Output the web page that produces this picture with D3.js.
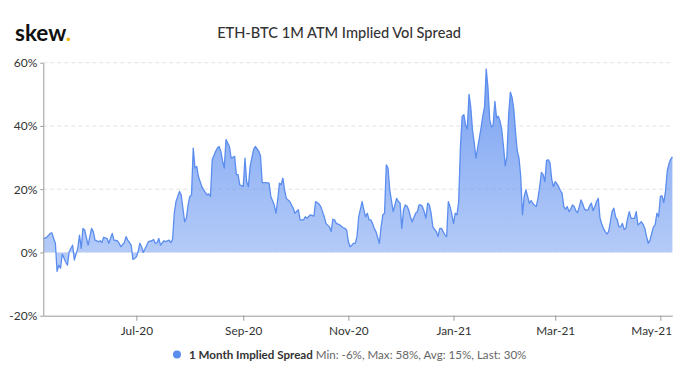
<!DOCTYPE html>
<html>
<head>
<meta charset="utf-8">
<script src="https://cdn.jsdelivr.net/npm/d3@7"></script>
<style>
  html, body { margin: 0; padding: 0; background: #fff; }
  svg { display: block; font-family: Lato, "Open Sans", sans-serif; }
</style>
</head>
<body>
<svg id="chart" width="680" height="380"></svg>
<script>
// ---- data ----
const startDate = "2020-05-08";
const dayOffsets = [0,2,4,5,6,7,8,9,10,11,13,14,15,17,18,20,21,22,23,24,26,28,29,30,32,33,34,35,37,38,40,41,43,44,45,47,48,49,51,52,53,54,55,56,57,58,60,61,63,64,65,66,67,68,70,71,73,74,75,76,77,79,80,82,83,84,85,86,87,88,89,90,92,93,95,96,97,98,100,101,102,103,104,105,106,108,109,111,112,113,114,116,117,118,119,120,122,123,125,126,127,129,131,132,134,135,136,137,138,139,140,141,143,145,146,148,149,151,152,153,155,157,158,160,161,163,164,166,167,168,169,170,172,174,175,176,177,178,179,180,181,182,183,185,186,187,188,189,190,191,192,193,195,196,197,198,199,200,201,203,204,205,206,207,208,209,210,211,212,213,214,216,217,218,219,220,221,222,223,224,225,226,228,229,230,231,232,233,234,235,236,237,238,239,240,241,242,243,244,245,246,247,248,249,250,251,252,253,254,255,256,257,258,259,260,261,262,263,264,265,266,267,268,269,270,271,272,273,274,275,276,277,278,279,280,281,282,283,284,285,286,287,288,289,290,291,292,293,294,295,296,297,298,299,300,301,302,303,304,305,306,307,308,309,310,311,312,313,314,315,316,317,318,319,320,321,322,323,324,325,326,327,328,329,330,331,332,333,334,335,336,337,338,339,340,341,342,343,344,345,346,347,348,349,350,351,352,353,354,355,356,357,358,359,360,361,362,363,364,365];
const spreadValues = [4.4,4.8,6,6.2,4.4,2.9,-6,-4,-5,-0.5,-3,-4,0.2,2.3,-2.4,1.3,5.5,1.3,7.6,7.1,2.3,7.6,6.6,3.9,3.4,3.7,3.1,4.8,4.4,2.9,6,3.9,3.7,2.9,1.8,3.1,5,3.9,2.3,-2.2,-1.9,-1.4,0.2,2.9,1.8,0,2.3,3.4,3.7,4.1,2.9,3.1,4.4,2.3,3.7,3.4,3.9,3.1,4.1,12.4,16.1,19.3,18.2,9.7,10.8,15,17.7,18.2,33,26.7,27.2,24,20.8,19.8,18.2,18.5,17.7,29.3,32,33,33.5,32,29,26.7,35.7,33.5,29.8,30.4,24.6,24.6,21.4,20.8,29.8,22.4,20.8,27.2,32.5,33.5,32,30.6,22.1,22.1,21.9,17.7,15,12.4,16.6,21.9,21.4,23.5,19.8,17.1,16.1,14,12.4,13.5,10.3,10.3,11.3,10.8,11.9,11.5,16.1,15.3,14.5,11.3,9.2,8.1,6.6,10.5,10.3,9.2,8.7,7.8,7.6,7.1,3.4,1.8,2.3,2.9,2.9,5,11.3,16.1,13.4,11.3,12.4,10.3,10.3,9.2,7.6,6.6,2.9,8.1,11.9,12.4,27.7,26.7,19.8,12.9,15,17.1,16.1,15.6,7.6,13.4,15,14.7,13.4,11.3,9.7,12.4,12.9,15,15,14.5,12.9,10.8,15.6,15,12.4,8.1,6.6,5,7.5,7.6,6.6,5.5,5,16.1,14.5,12,9.2,12.4,11.9,16,33,43,43.6,40.4,39,50,46,38.8,34.8,29.8,33,36.2,39.4,43.1,46,58,52,42,39.7,40.2,47.8,42.5,43.1,41.5,38.8,33.5,27.4,30.4,43.6,50.7,48.9,45.2,37.8,32,29.8,24,11.9,17.7,19.8,17.7,15.6,16.4,15.6,14.9,14.5,17.1,20.8,25.3,24.6,22.4,29.1,29.3,28.3,23,20.8,22.4,21.7,20.8,19.6,18.7,14.5,13.7,14.5,12.9,13.7,15,14.5,13.2,12.6,14.5,16.6,15.3,13.7,13.4,13.4,14.7,15.6,13.2,14.5,16.1,17.1,10.8,9,7.6,6.6,5.8,6.6,9.7,12.9,14,11.3,10.3,8.1,8.1,9.2,7.3,7.6,10.8,12.9,10.8,10.8,10.8,12.9,8.7,9.2,9.7,8.9,7.6,5,2.9,3.9,6,8.1,8.7,12.4,11.3,17.7,17.9,15.8,19.3,25.6,28,29.5,30.2];
const xTickDates = ["2020-07-01","2020-09-01","2020-11-01","2021-01-01","2021-03-01","2021-05-01"];
const xTickLabels = ["Jul-20","Sep-20","Nov-20","Jan-21","Mar-21","May-21"];
const yTicks = [-20, 0, 20, 40, 60];
const seriesName = "1 Month Implied Spread";
const seriesStats = "Min: -6%, Max: 58%, Avg: 15%, Last: 30%";
const chartTitle = "ETH-BTC 1M ATM Implied Vol Spread";

// ---- build ----
(function () {
const parse = d3.utcParse("%Y-%m-%d");
const t0 = parse(startDate);
const n = Math.min(dayOffsets.length, spreadValues.length);
const data = d3.range(n).map(i => ({ date: d3.utcDay.offset(t0, dayOffsets[i]), value: spreadValues[i] }));

const svg = d3.select("#chart");
const pL = 43.3, pR = 672.4, pT = 62.7, pB = 315.7;
const lineColor = "#5b8def";

const x = d3.scaleUtc()
  .domain([t0, d3.utcDay.offset(t0, 365)])
  .range([pL, pR]);
const y = d3.scaleLinear().domain([-20, 60]).range([pB, pT]);

const defs = svg.append("defs");
const grad = defs.append("linearGradient")
  .attr("id", "areaGrad")
  .attr("gradientUnits", "userSpaceOnUse")
  .attr("x1", 0).attr("x2", 0)
  .attr("y1", y(58)).attr("y2", y(-6));
grad.append("stop").attr("offset", "0%").attr("stop-color", lineColor).attr("stop-opacity", 0.82);
grad.append("stop").attr("offset", "100%").attr("stop-color", lineColor).attr("stop-opacity", 0.42);

svg.append("g").selectAll("line")
  .data(yTicks.filter(v => v > -20))
  .join("line")
  .attr("x1", pL).attr("x2", pR)
  .attr("y1", d => y(d)).attr("y2", d => y(d))
  .attr("stroke", "#e2e2e2")
  .attr("stroke-width", 1)
  .attr("stroke-dasharray", "4,3");

const area = d3.area()
  .x(d => x(d.date))
  .y0(y(0))
  .y1(d => y(d.value));
svg.append("path").datum(data)
  .attr("d", area)
  .attr("fill", "url(#areaGrad)");

svg.append("line")
  .attr("x1", pL).attr("x2", pR)
  .attr("y1", y(0)).attr("y2", y(0))
  .attr("stroke", "#ffffff").attr("stroke-opacity", 0.35)
  .attr("stroke-dasharray", "4,3");

const line = d3.line().x(d => x(d.date)).y(d => y(d.value));
svg.append("path").datum(data)
  .attr("d", line)
  .attr("fill", "none")
  .attr("stroke", lineColor)
  .attr("stroke-width", 1.3)
  .attr("stroke-linejoin", "round");

const xAxis = d3.axisBottom(x)
  .tickValues(xTickDates.map(parse))
  .tickFormat((d, i) => xTickLabels[i])
  .tickSize(5)
  .tickSizeOuter(0)
  .tickPadding(6);
const gx = svg.append("g").attr("transform", `translate(0,${pB})`).call(xAxis);
gx.select(".domain").attr("stroke", "#9a9a9a");
gx.selectAll(".tick line").attr("stroke", "#9a9a9a");
gx.selectAll(".tick text").attr("fill", "#333").attr("font-size", 11.8).attr("font-family", "Lato, sans-serif");
// keep the last label inside the chart (justify like the reference)
gx.selectAll(".tick text").each(function () {
  const bb = this.getBBox();
  const tr = this.parentNode.getAttribute("transform");
  const tx = +/translate\(([-\d.]+)/.exec(tr)[1];
  const over = tx + bb.x + bb.width - 672;
  if (over > 0) d3.select(this).attr("dx", -over);
});

const yAxis = d3.axisLeft(y)
  .tickValues(yTicks)
  .tickFormat(d => d + "%")
  .tickSize(3)
  .tickSizeOuter(0)
  .tickPadding(3);
const gy = svg.append("g").attr("transform", `translate(${pL},0)`).call(yAxis);
gy.select(".domain").attr("stroke", "#9a9a9a");
gy.selectAll(".tick line").attr("stroke", "#9a9a9a");
gy.selectAll(".tick text").attr("fill", "#333").attr("font-size", 12).attr("font-family", "Lato, sans-serif");

const logo = svg.append("text")
  .attr("x", 15).attr("y", 41)
  .attr("font-family", "Lato, sans-serif")
  .attr("font-weight", 700)
  .attr("font-size", 22.5)
  .attr("fill", "#111");
logo.append("tspan").text("skew");
logo.append("tspan").attr("fill", "#f5b400").text(".");

svg.append("text")
  .attr("x", 339).attr("y", 38)
  .attr("text-anchor", "middle")
  .attr("font-family", "Lato, sans-serif")
  .attr("font-size", 14.6)
  .attr("font-weight", 500)
  .attr("fill", "#333")
  .text(chartTitle);

const lg = svg.append("g");
lg.append("circle").attr("cx", 177).attr("cy", 354.5).attr("r", 4).attr("fill", lineColor);
const lt = lg.append("text")
  .attr("x", 189).attr("y", 358.5)
  .attr("font-family", "Lato, sans-serif")
  .attr("font-size", 11.6);
lt.append("tspan").attr("font-weight", 700).attr("fill", "#333").text(seriesName);
lt.append("tspan").attr("fill", "#666").text(" " + seriesStats);
})();
</script>
</body>
</html>
